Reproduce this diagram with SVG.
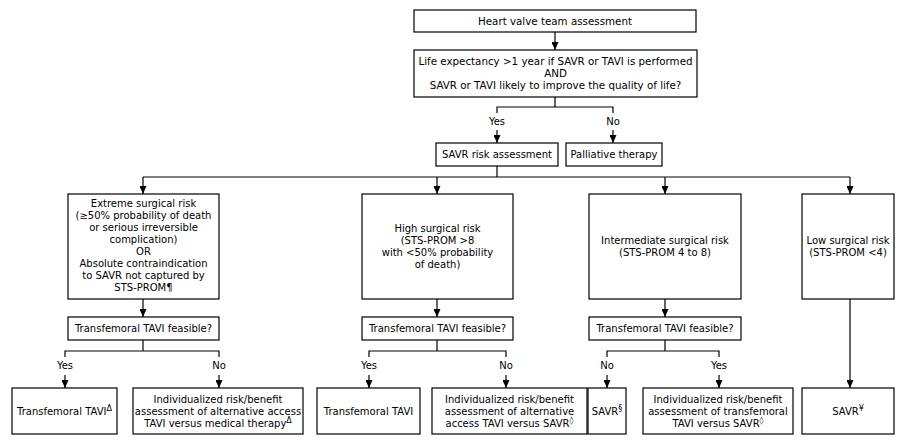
<svg xmlns="http://www.w3.org/2000/svg" width="907" height="446" viewBox="0 0 907 446">
<defs>
<marker id="ah" viewBox="0 0 8 7" refX="8" refY="3.5" markerWidth="8" markerHeight="7" markerUnits="userSpaceOnUse" orient="auto">
<path d="M0,0 L8,3.5 L0,7 z" fill="#000"/>
</marker>
<style>
rect{fill:#fff;stroke:#000;stroke-width:1.2}
text{font-family:"DejaVu Sans",Verdana,sans-serif;font-size:10px;fill:#000;text-anchor:middle}
.big{font-size:10.3px}
.sup{font-size:8px}
#connectors path,#connectors line{fill:none;stroke:#000;stroke-width:1.2}
.a{marker-end:url(#ah)}
</style>
</defs>
<rect x="0" y="0" width="907" height="446" style="fill:#fff;stroke:none"/>

<g id="connectors">
<line class="a" x1="555" y1="32" x2="555" y2="50"/>
<path d="M555,97 V107 M497,113 V107 H613 V113"/>
<line class="a" x1="497" y1="130" x2="497" y2="143"/>
<line class="a" x1="613" y1="130" x2="613" y2="143"/>
<path d="M497,166 V177 M143,177 H850"/>
<line class="a" x1="143" y1="177" x2="143" y2="194"/>
<line class="a" x1="437" y1="177" x2="437" y2="194"/>
<line class="a" x1="665" y1="177" x2="665" y2="194"/>
<line class="a" x1="850" y1="177" x2="850" y2="194"/>
<line class="a" x1="143" y1="299" x2="143" y2="317"/>
<line class="a" x1="437" y1="299" x2="437" y2="317"/>
<line class="a" x1="665" y1="299" x2="665" y2="317"/>
<path d="M143,340 V351 M65,357 V351 H219 V357"/>
<path d="M437,340 V351 M369,357 V351 H506 V357"/>
<path d="M665,340 V351 M607,357 V351 H719 V357"/>
<line class="a" x1="65" y1="375" x2="65" y2="388"/>
<line class="a" x1="219" y1="375" x2="219" y2="388"/>
<line class="a" x1="369" y1="375" x2="369" y2="388"/>
<line class="a" x1="506" y1="375" x2="506" y2="388"/>
<line class="a" x1="607" y1="375" x2="607" y2="388"/>
<line class="a" x1="719" y1="375" x2="719" y2="388"/>
<line class="a" x1="850" y1="299" x2="850" y2="388"/>
<text x="497" y="124.5">Yes</text>
<text x="613" y="124.5">No</text>
<text x="65" y="368.5">Yes</text>
<text x="219" y="368.5">No</text>
<text x="369" y="368.5">Yes</text>
<text x="506" y="368.5">No</text>
<text x="607" y="368.5">No</text>
<text x="719" y="368.5">Yes</text>
</g>

<g id="n-team">
<rect x="414" y="10" width="282" height="22"/>
<text class="big" x="555" y="24.5">Heart valve team assessment</text>
</g>

<g id="n-life">
<rect x="414" y="50" width="283" height="47"/>
<text class="big" x="555.5" y="64.5">Life expectancy &gt;1 year if SAVR or TAVI is performed</text>
<text class="big" x="555.5" y="76.5">AND</text>
<text class="big" x="555.5" y="88.5">SAVR or TAVI likely to improve the quality of life?</text>
</g>

<g id="n-savr-risk">
<rect x="436" y="143" width="122" height="23"/>
<text x="497" y="158">SAVR risk assessment</text>
</g>

<g id="n-palliative">
<rect x="566" y="143" width="96" height="23"/>
<text x="614" y="158">Palliative therapy</text>
</g>

<g id="n-extreme">
<rect x="68" y="194" width="151" height="105"/>
<text x="143.5" y="206.5">Extreme surgical risk</text>
<text x="143.5" y="218.5">(≥50% probability of death</text>
<text x="143.5" y="230.5">or serious irreversible</text>
<text x="143.5" y="242.5">complication)</text>
<text x="143.5" y="254.5">OR</text>
<text x="143.5" y="266.5">Absolute contraindication</text>
<text x="143.5" y="278.5">to SAVR not captured by</text>
<text x="143.5" y="290.5">STS-PROM¶</text>
</g>

<g id="n-high">
<rect x="362" y="194" width="151" height="105"/>
<text x="437.5" y="232">High surgical risk</text>
<text x="437.5" y="244">(STS-PROM &gt;8</text>
<text x="437.5" y="256">with &lt;50% probability</text>
<text x="437.5" y="268">of death)</text>
</g>

<g id="n-intermediate">
<rect x="589" y="194" width="152" height="105"/>
<text x="665" y="244">Intermediate surgical risk</text>
<text x="665" y="256">(STS-PROM 4 to 8)</text>
</g>

<g id="n-low">
<rect x="802" y="194" width="92" height="105"/>
<text x="848" y="244">Low surgical risk</text>
<text x="848" y="256">(STS-PROM &lt;4)</text>
</g>

<g id="n-tf-extreme">
<rect x="68" y="317" width="151" height="23"/>
<text x="143.5" y="332">Transfemoral TAVI feasible?</text>
</g>
<g id="n-tf-high">
<rect x="362" y="317" width="151" height="23"/>
<text x="437.5" y="332">Transfemoral TAVI feasible?</text>
</g>
<g id="n-tf-intermediate">
<rect x="589" y="317" width="152" height="23"/>
<text x="665" y="332">Transfemoral TAVI feasible?</text>
</g>

<g id="n-ext-yes">
<rect x="12" y="388" width="105" height="46"/>
<text x="64.5" y="414.5">Transfemoral TAVI<tspan class="sup" dy="-4">Δ</tspan></text>
</g>
<g id="n-ext-no">
<rect x="133" y="388" width="170" height="46"/>
<text x="218" y="402.5">Individualized risk/benefit</text>
<text x="218" y="414.5">assessment of alternative access</text>
<text x="218" y="426.5">TAVI versus medical therapy<tspan class="sup" dy="-4">Δ</tspan></text>
</g>
<g id="n-high-yes">
<rect x="317" y="388" width="103" height="46"/>
<text x="368.5" y="414.5">Transfemoral TAVI</text>
</g>
<g id="n-high-no">
<rect x="432" y="388" width="155" height="46"/>
<text x="509.5" y="402.5">Individualized risk/benefit</text>
<text x="509.5" y="414.5">assessment of alternative</text>
<text x="509.5" y="426.5">access TAVI versus SAVR<tspan class="sup" dy="-4">◊</tspan></text>
</g>
<g id="n-int-no">
<rect x="588" y="388" width="38" height="46"/>
<text x="607" y="414.5">SAVR<tspan class="sup" dy="-4">§</tspan></text>
</g>
<g id="n-int-yes">
<rect x="643" y="388" width="150" height="46"/>
<text x="718" y="402.5">Individualized risk/benefit</text>
<text x="718" y="414.5">assessment of transfemoral</text>
<text x="718" y="426.5">TAVI versus SAVR<tspan class="sup" dy="-4">◊</tspan></text>
</g>
<g id="n-low-savr">
<rect x="802" y="388" width="92" height="46"/>
<text x="848" y="414.5">SAVR<tspan class="sup" dy="-4">¥</tspan></text>
</g>
</svg>
